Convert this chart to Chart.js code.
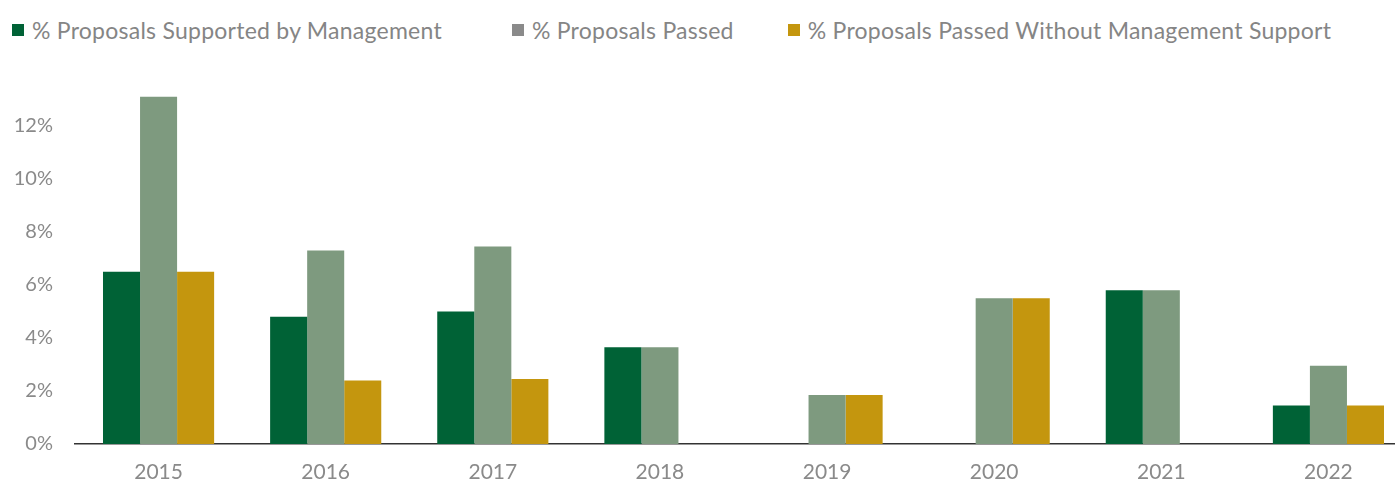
<!DOCTYPE html>
<html>
<head>
<meta charset="utf-8">
<title>Shareholder proposals</title>
<script src="https://cdn.jsdelivr.net/npm/chart.js@4.4.1/dist/chart.umd.min.js"></script>
<style>
  html, body { margin: 0; padding: 0; background: #fff; overflow: hidden; }
  body { width: 1395px; height: 485px; position: relative; font-family: Lato, sans-serif; }
  #legend { position: absolute; top: 16px; left: 12px; display: flex; color: #858585; font-size: 23px; letter-spacing: 0.25px; line-height: 28px; white-space: nowrap; }
  #legend .item { display: flex; align-items: center; }
  #legend .item:nth-child(2) { margin-left: 70px; }
  #legend .item:nth-child(3) { margin-left: 54px; }
  #legend .swatch { width: 12px; height: 12px; margin-right: 8px; }
  #wrap { position: absolute; left: 0; top: 0; width: 1412px; height: 485px; }
</style>
</head>
<body>
<div id="legend"></div>
<div id="wrap"><canvas id="myChart"></canvas></div>
<script>
const years = ['2015', '2016', '2017', '2018', '2019', '2020', '2021', '2022'];

// % of proposals supported by management
const supported = [6.5, 4.8, 5.0, 3.65, 0, 0, 5.8, 1.45];
// % of proposals passed
const passed = [13.1, 7.3, 7.45, 3.65, 1.85, 5.5, 5.8, 2.95];
// % passed without management support
const passedNoSupport = [6.5, 2.4, 2.45, 0, 1.85, 5.5, 0, 1.45];

const yTicks = [0, 2, 4, 6, 8, 10, 12];

const series = [
    { label: '% Proposals Supported by Management', data: supported, color: '#006236', key: '#006236' },
    { label: '% Proposals Passed', data: passed, color: '#7e9a7f', key: '#8a8a8a' },
    { label: '% Proposals Passed Without Management Support', data: passedNoSupport, color: '#c4960e', key: '#c4960e' },
];

// html legend across the top
const legend = document.getElementById('legend');
series.forEach(s => {
    const item = document.createElement('div');
    item.className = 'item';
    item.innerHTML = '<span class="swatch" style="background:' + s.key + '"></span><span>' + s.label + '</span>';
    legend.appendChild(item);
});

const data = {
    labels: years,
    datasets: series.map(s => ({
        label: s.label,
        data: s.data,
        backgroundColor: s.color,
        borderWidth: 0,
        barPercentage: 1,
        categoryPercentage: 0.665,
    }))
};

const config = {
    type: 'bar',
    data: data,
    options: {
        responsive: true,
        maintainAspectRatio: false,
        animation: false,
        layout: { padding: { top: 73, left: 0, right: 0, bottom: 0 } },
        plugins: {
            legend: { display: false },
            tooltip: { enabled: false }
        },
        scales: {
            x: {
                grid: { display: false, drawTicks: false },
                border: { display: true, color: '#333333', width: 1.5 },
                ticks: {
                    color: '#8a8a8a',
                    padding: 16,
                    font: { family: 'Lato', size: 21 }
                },
                afterFit: scale => { scale.height = 41; }
            },
            y: {
                min: 0,
                max: 14,
                grid: { display: false, drawTicks: false },
                border: { display: false },
                ticks: {
                    stepSize: 2,
                    color: '#8a8a8a',
                    padding: 22,
                    font: { family: 'Lato', size: 20 },
                    callback: v => yTicks.includes(v) ? v + '%' : null
                },
                afterFit: scale => { scale.width = 75; }
            }
        }
    }
};

const myChart = new Chart(document.getElementById('myChart'), config);
</script>
</body>
</html>
